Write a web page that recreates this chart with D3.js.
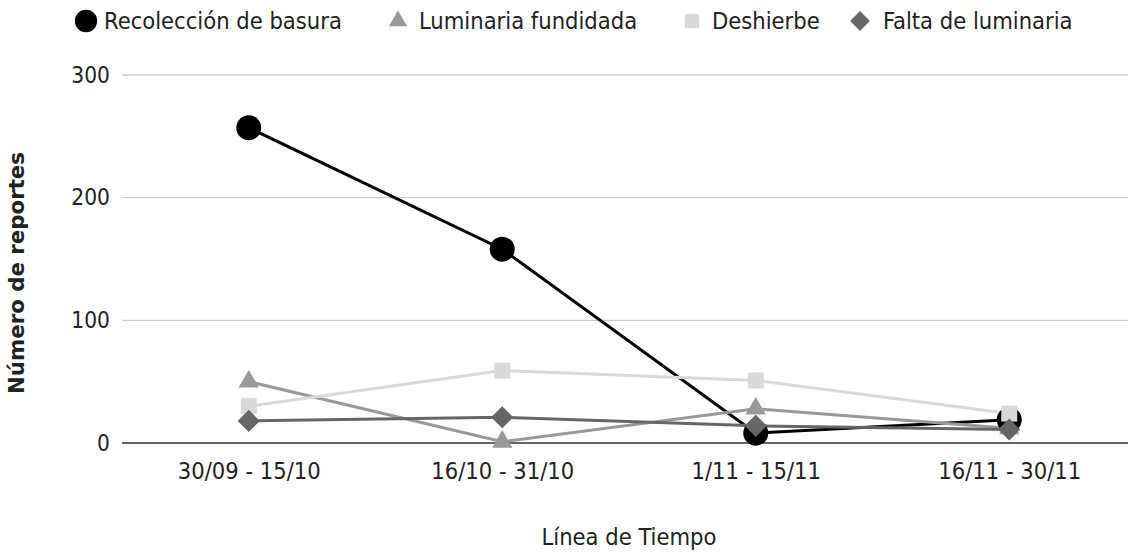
<!DOCTYPE html>
<html>
<head>
<meta charset="utf-8">
<script src="https://cdn.jsdelivr.net/npm/d3@7"></script>
<style>
  body { margin: 0; background: #fff; }
  svg text { font-family: "DejaVu Sans Condensed", "DejaVu Sans", sans-serif; fill: #222; }
</style>
</head>
<body>
<div id="root"></div>
<script>
// periods on the x axis
const periods = ["30/09 - 15/10", "16/10 - 31/10", "1/11 - 15/11", "16/11 - 30/11"]

// series values
const recoleccion = [257, 158, 8, 19]
const luminaria_fundidada = [50, 1, 28, 12]
const deshierbe = [30, 59, 51, 24]
const falta_luminaria = [18, 21, 14, 11]

const y_ticks = [0, 100, 200, 300]

const series = [
  {name: "Recolección de basura", values: recoleccion, color: "#000000", shape: d3.symbolCircle, size: 490, rot: 0},
  {name: "Luminaria fundidada", values: luminaria_fundidada, color: "#999999", shape: d3.symbolTriangle, size: 180, rot: 0},
  {name: "Deshierbe", values: deshierbe, color: "#d9d9d9", shape: d3.symbolSquare, size: 256, rot: 0},
  {name: "Falta de luminaria", values: falta_luminaria, color: "#666666", shape: d3.symbolSquare, size: 245, rot: 45}
]

const width = 1128, height = 553
const margin = {top: 75, right: -8, bottom: 110, left: 122}
const inner_w = width - margin.left - margin.right
const inner_h = height - margin.top - margin.bottom

const svg = d3.select("#root").append("svg")
  .attr("width", width)
  .attr("height", height)

const x_scale = d3.scalePoint()
  .domain(periods)
  .range([0, inner_w])
  .padding(0.5)

const y_scale = d3.scaleLinear()
  .domain([0, 300])
  .range([inner_h, 0])

const g = svg.append("g")
  .attr("transform", "translate(" + margin.left + "," + margin.top + ")")

// horizontal grid
g.append("g")
  .selectAll("line")
  .data(y_ticks.filter(d => d > 0))
  .enter()
  .append("line")
  .attr("x1", 0)
  .attr("x2", inner_w)
  .attr("y1", d => y_scale(d))
  .attr("y2", d => y_scale(d))
  .attr("stroke", "#cccccc")
  .attr("stroke-width", 1.3)

// y axis labels
const y_axis = g.append("g")
  .call(d3.axisLeft(y_scale).tickValues(y_ticks).tickSize(0).tickPadding(12))
y_axis.select(".domain").remove()
y_axis.selectAll("text")
  .style("font-size", "22.5px")
  .attr("fill", "#222")

// baseline
g.append("line")
  .attr("x1", 0)
  .attr("x2", inner_w)
  .attr("y1", inner_h)
  .attr("y2", inner_h)
  .attr("stroke", "#333333")
  .attr("stroke-width", 1.5)

// x axis labels
const x_axis = g.append("g")
  .attr("transform", "translate(0," + inner_h + ")")
  .call(d3.axisBottom(x_scale).tickSize(0).tickPadding(19))
x_axis.select(".domain").remove()
x_axis.selectAll("text")
  .style("font-size", "23.5px")
  .attr("fill", "#222")

// lines
const line_gen = d3.line()
  .x((d, i) => x_scale(periods[i]))
  .y(d => y_scale(d))

for (let s of series) {
  g.append("path")
    .datum(s.values)
    .attr("d", line_gen)
    .attr("fill", "none")
    .attr("stroke", s.color)
    .attr("stroke-width", 3)
}

// markers drawn after all lines
for (let s of series) {
  g.append("g")
    .selectAll("path")
    .data(s.values)
    .enter()
    .append("path")
    .attr("transform", (d, i) => "translate(" + x_scale(periods[i]) + "," + y_scale(d) + ") rotate(" + s.rot + ")")
    .attr("d", d3.symbol().type(s.shape).size(s.size))
    .attr("fill", s.color)
}

// legend
const legend_sym_x = [86, 398, 692, 860]
const legend_text_x = [104, 419, 712, 883]
const legend = svg.append("g")
series.forEach((s, i) => {
  legend.append("path")
    .attr("transform", "translate(" + legend_sym_x[i] + ",21) rotate(" + s.rot + ")")
    .attr("d", d3.symbol().type(s.shape).size(s.size * 0.8))
    .attr("fill", s.color)
  legend.append("text")
    .attr("x", legend_text_x[i])
    .attr("y", 21)
    .attr("dy", "0.35em")
    .style("font-size", "23.5px")
    .text(s.name)
})

// axis titles
svg.append("text")
  .attr("transform", "translate(24," + (margin.top + inner_h / 2 + 14) + ") rotate(-90)")
  .attr("text-anchor", "middle")
  .style("font-size", "21.3px")
  .style("font-weight", "bold")
  .style("font-family", "'DejaVu Sans', sans-serif")
  .attr("fill", "#111")
  .text("Número de reportes")

svg.append("text")
  .attr("x", margin.left + inner_w / 2)
  .attr("y", 545)
  .attr("text-anchor", "middle")
  .style("font-size", "23.5px")
  .text("Línea de Tiempo")
</script>
</body>
</html>
